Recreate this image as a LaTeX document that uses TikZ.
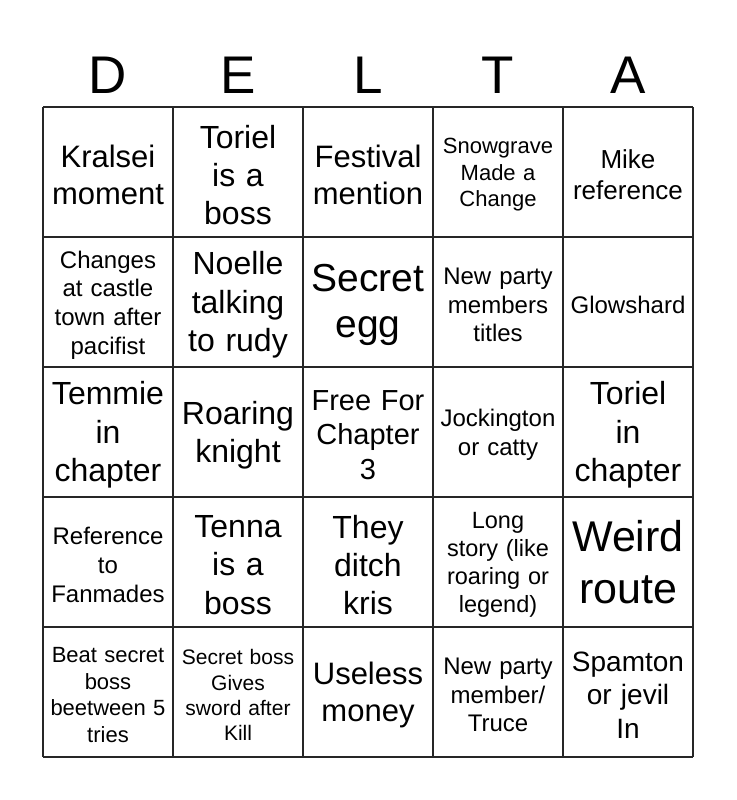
\documentclass[tikz,border=0pt]{standalone}
\usepackage{fontspec}
\setmainfont{Liberation Sans}
\usepackage{tikz}
\usetikzlibrary{positioning}

\newcommand{\fs}[1]{\fontsize{#1pt}{\dimexpr #1pt*12/10\relax}\selectfont}

\begin{document}
\begin{tikzpicture}[x=1pt,y=-1pt,
   cell/.style={align=center, inner sep=0pt, text width=126pt, yshift=-3pt},
   letter/.style={font=\fontsize{53}{60}\selectfont, inner sep=0pt}]
   \useasboundingbox[fill=white] (0,0) rectangle (736,800);
   % header
   \node[letter] (hD) at (108,75) {D};
   \node[letter] (hE) at (238,75) {E};
   \node[letter] (hL) at (368,75) {L};
   \node[letter] (hT) at (498,75) {T};
   \node[letter] (hA) at (628,75) {A};
   % grid
   \foreach \i in {0,...,5} {
      \draw[line width=1.6pt, black!85] (43+130*\i,107) -- (43+130*\i,757);
      \draw[line width=1.6pt, black!85] (43,107+130*\i) -- (693,107+130*\i);
   }
   % row 1
   \node[cell, font=\fs{31}] (c11) at (108,172) {Kralsei\\moment};
   \node[cell, font=\fs{32}] (c12) at (238,172) {Toriel\\is a\\boss};
   \node[cell, font=\fs{31}] (c13) at (368,172) {Festival\\mention};
   \node[cell, font=\fs{22}] (c14) at (498,172) {Snowgrave\\Made a\\Change};
   \node[cell, font=\fs{26}] (c15) at (628,172) {Mike\\reference};
   % row 2
   \node[cell, font=\fs{24}] (c21) at (108,302) {Changes\\at castle\\town after\\pacifist};
   \node[cell, font=\fs{32}] (c22) at (238,302) {Noelle\\talking\\to rudy};
   \node[cell, font=\fs{39}] (c23) at (368,302) {Secret\\egg};
   \node[cell, font=\fs{24}] (c24) at (498,302) {New party\\members\\titles};
   \node[cell, font=\fs{24}] (c25) at (628,302) {Glowshard};
   % row 3
   \node[cell, font=\fs{32}] (c31) at (108,432) {Temmie\\in\\chapter};
   \node[cell, font=\fs{32}] (c32) at (238,432) {Roaring\\knight};
   \node[cell, font=\fs{29}] (c33) at (368,432) {Free For\\Chapter\\3};
   \node[cell, font=\fs{24}] (c34) at (498,432) {Jockington\\or catty};
   \node[cell, font=\fs{32}] (c35) at (628,432) {Toriel\\in\\chapter};
   % row 4
   \node[cell, font=\fs{24}] (c41) at (108,562) {Reference\\to\\Fanmades};
   \node[cell, font=\fs{32}] (c42) at (238,562) {Tenna\\is a\\boss};
   \node[cell, font=\fs{32}] (c43) at (368,562) {They\\ditch\\kris};
   \node[cell, font=\fs{23.5}] (c44) at (498,562) {Long\\story (like\\roaring or\\legend)};
   \node[cell, font=\fs{43}, yshift=3pt] (c45) at (628,562) {Weird\\route};
   % row 5
   \node[cell, font=\fs{22}] (c51) at (108,692) {Beat secret\\boss\\beetween 5\\tries};
   \node[cell, font=\fs{21}] (c52) at (238,692) {Secret boss\\Gives\\sword after\\Kill};
   \node[cell, font=\fs{31}] (c53) at (368,692) {Useless\\money};
   \node[cell, font=\fs{24}] (c54) at (498,692) {New party\\member/\\Truce};
   \node[cell, font=\fs{28}] (c55) at (628,692) {Spamton\\or jevil\\In};
\end{tikzpicture}
\end{document}
